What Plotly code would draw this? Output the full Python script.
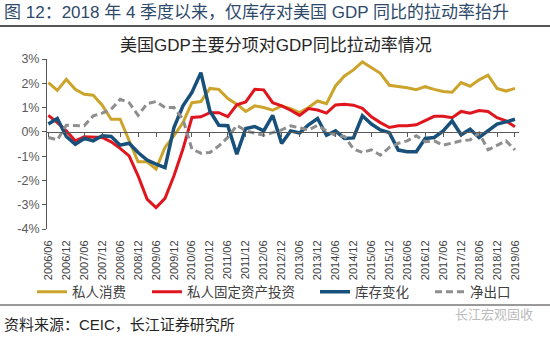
import plotly.graph_objects as go

quarters = [
    "2006/06", "2006/09", "2006/12", "2007/03", "2007/06", "2007/09", "2007/12", "2008/03",
    "2008/06", "2008/09", "2008/12", "2009/03", "2009/06", "2009/09", "2009/12", "2010/03",
    "2010/06", "2010/09", "2010/12", "2011/03", "2011/06", "2011/09", "2011/12", "2012/03",
    "2012/06", "2012/09", "2012/12", "2013/03", "2013/06", "2013/09", "2013/12", "2014/03",
    "2014/06", "2014/09", "2014/12", "2015/03", "2015/06", "2015/09", "2015/12", "2016/03",
    "2016/06", "2016/09", "2016/12", "2017/03", "2017/06", "2017/09", "2017/12", "2018/03",
    "2018/06", "2018/09", "2018/12", "2019/03", "2019/06",
]

tick_labels = [
    "2006/06", "2006/12", "2007/06", "2007/12", "2008/06", "2008/12", "2009/06", "2009/12",
    "2010/06", "2010/12", "2011/06", "2011/12", "2012/06", "2012/12", "2013/06", "2013/12",
    "2014/06", "2014/12", "2015/06", "2015/12", "2016/06", "2016/12", "2017/06", "2017/12",
    "2018/06", "2018/12", "2019/06",
]

consumption = [
    2.03, 1.71, 2.16, 1.75, 1.55, 1.51, 1.10, 0.52, 0.52, -0.37,
    -1.23, -1.23, -1.53, -0.64, -0.16, 0.38, 1.20, 1.25, 1.79, 1.75,
    1.37, 1.14, 0.84, 1.07, 1.00, 0.89, 1.07, 0.96, 0.79, 1.00,
    1.27, 1.16, 1.89, 2.30, 2.55, 2.88, 2.64, 2.41, 1.92, 1.88,
    1.82, 1.74, 1.86, 1.75, 1.66, 1.63, 2.03, 1.88, 2.14, 2.33,
    1.79, 1.68, 1.79,
]

fixed_invest = [
    0.68, 0.38, 0.04, -0.37, -0.20, -0.20, -0.23, -0.41, -0.68, -0.99,
    -1.81, -2.77, -3.12, -2.74, -1.81, -0.71, 0.59, 0.62, 0.79, 0.79,
    0.63, 1.11, 1.23, 1.75, 1.73, 1.20, 1.07, 0.89, 0.68, 0.96,
    0.90, 0.77, 1.11, 1.14, 1.10, 0.97, 0.62, 0.38, 0.18, 0.25,
    0.25, 0.29, 0.45, 0.64, 0.64, 0.58, 0.84, 0.77, 0.88, 0.84,
    0.58, 0.45, 0.21,
]

inventory = [
    0.32, 0.55, -0.19, -0.51, -0.27, -0.37, -0.16, -0.19, -0.55, -0.47,
    -0.85, -1.16, -1.33, -1.47, 0.18, 1.07, 1.62, 2.44, 0.86, 0.27,
    0.25, -0.92, 0.14, 0.22, 0.04, 0.68, -0.48, 0.04, -0.05, 0.29,
    0.55, -0.14, 0.04, -0.27, -0.25, 0.66, 0.32, 0.08, -0.03, -0.75,
    -0.82, -0.82, -0.27, -0.23, 0.04, 0.45, -0.12, 0.11, -0.23, 0.04,
    0.32, 0.41, 0.52,
]

net_exports = [
    -0.23, -0.33, 0.27, 0.25, 0.25, 0.66, 0.77, 0.93, 1.34, 1.20,
    0.68, 1.16, 1.25, 1.00, 1.00, 0.52, -0.71, -0.88, -0.85, -0.58,
    -0.23, 0.27, 0.04, -0.05, -0.14, -0.03, 0.08, 0.25, 0.18, 0.08,
    0.27, 0.04, -0.14, -0.19, -0.70, -0.85, -0.74, -0.96, -0.64, -0.47,
    -0.37, -0.16, -0.41, -0.37, -0.55, -0.47, -0.37, -0.33, -0.05, -0.74,
    -0.55, -0.37, -0.74,
]

y_ticks = [3, 2, 1, 0, -1, -2, -3, -4]
y_tick_text = ["3%", "2%", "1%", "0%", "-1%", "-2%", "-3%", "-4%"]

FONT = "Liberation Sans, Arial, Noto Sans CJK SC, sans-serif"
AXIS_COLOR = "#595959"

xs = list(range(len(quarters)))
tick_pos = [quarters.index(t) for t in tick_labels]


def px_x(px):
    return (px - 47) / 472.0


def px_y(py):
    return (229 - py) / 170.0


fig = go.Figure()
series = [
    ("私人消费", consumption, "#CCA42B", "solid", 3, "legend", 32),
    ("私人固定资产投资", fixed_invest, "#E0161E", "solid", 3, "legend2", 147),
    ("库存变化", inventory, "#17507A", "solid", 3.5, "legend3", 315),
    ("净出口", net_exports, "#8E8E8E", "7px,4px", 3, "legend4", 430),
]
legend_layout = {}
for name, vals, color, dash, w, leg, lx in series:
    fig.add_trace(go.Scatter(
        x=xs, y=vals, name=name, mode="lines", legend=leg,
        line=dict(color=color, width=w, dash=dash),
    ))
    legend_layout[leg] = dict(
        orientation="h", x=px_x(lx), xanchor="left", y=px_y(292), yanchor="middle",
        font=dict(size=13.5, color="#404040"), bgcolor="rgba(0,0,0,0)", borderwidth=0,
    )

# helper trace for the axis drawn at y = 0
fig.add_trace(go.Scatter(x=xs, y=[None] * len(xs), xaxis="x2", yaxis="y",
                         showlegend=False, hoverinfo="skip", mode="lines"))

x_range = [-0.15, 52.45]
fig.update_layout(
    width=550, height=344,
    margin=dict(l=47, r=31, t=59, b=115),
    paper_bgcolor="white", plot_bgcolor="white",
    font=dict(family=FONT, color=AXIS_COLOR, size=12),
    showlegend=True,
    xaxis=dict(range=x_range, tickmode="array", tickvals=tick_pos, ticktext=tick_labels,
               tickangle=-90, showline=False, ticks="outside", ticklen=6,
               tickcolor="rgba(0,0,0,0)", showgrid=False, zeroline=False,
               tickfont=dict(size=11, color="#404040")),
    xaxis2=dict(range=x_range, overlaying="x", anchor="free", position=4 / 7,
                tickmode="array", tickvals=tick_pos, showticklabels=False,
                showline=True, linecolor="#595959", linewidth=1,
                ticks="outside", ticklen=4, tickcolor="#595959", showgrid=False, zeroline=False),
    yaxis=dict(range=[-4, 3], tickmode="array", tickvals=y_ticks, ticktext=y_tick_text,
               showline=True, linecolor="#595959", linewidth=1, ticks="outside", ticklen=4,
               tickcolor="#595959", showgrid=False, zeroline=False,
               tickfont=dict(size=12.5, color="#595959")),
    **legend_layout,
)

annotations = [
    dict(text="图 12：2018 年 4 季度以来，仅库存对美国 GDP 同比的拉动率抬升",
         x=px_x(2), y=px_y(12), xanchor="left", yanchor="middle",
         font=dict(size=17, color="#2E4A6B")),
    dict(text="美国GDP主要分项对GDP同比拉动率情况", x=px_x(276), y=px_y(45),
         xanchor="center", yanchor="middle", font=dict(size=17, color="#262626")),
    dict(text="资料来源：CEIC，长江证券研究所", x=px_x(2), y=px_y(324),
         xanchor="left", yanchor="middle", font=dict(size=15, color="#262626")),
    dict(text="长江宏观固收", x=px_x(453), y=px_y(314),
         xanchor="left", yanchor="middle", font=dict(size=13, color="#BBBBBB")),
]
for a in annotations:
    a.update(xref="paper", yref="paper", showarrow=False)
fig.update_layout(annotations=annotations)

fig.add_shape(type="line", xref="paper", yref="paper", x0=px_x(0), x1=px_x(550),
              y0=px_y(26), y1=px_y(26), line=dict(color="#555555", width=2))
fig.add_shape(type="line", xref="paper", yref="paper", x0=px_x(0), x1=px_x(550),
              y0=px_y(305), y1=px_y(305), line=dict(color="#777777", width=1.5))

fig.write_html("out.html")
